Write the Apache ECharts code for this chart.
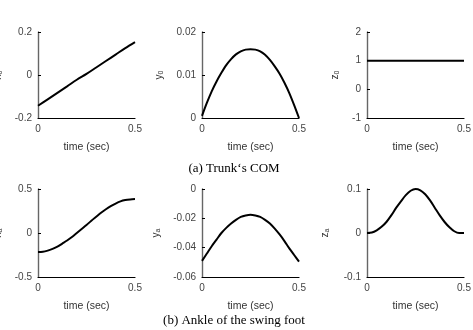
<!DOCTYPE html>
<html><head><meta charset="utf-8">
<script src="https://cdn.jsdelivr.net/npm/echarts@6/dist/echarts.min.js"></script>
<style>html,body{margin:0;padding:0;background:#fff}#c{width:473px;height:330px}</style>
</head><body><div id="c"></div>
<script>
const tFine = [0,0.025,0.05,0.075,0.1,0.125,0.15,0.175,0.2,0.225,0.25,0.275,0.3,0.325,0.35,0.375,0.4,0.425,0.45,0.475,0.5];
const tCoarse = [0,0.05,0.1,0.15,0.2,0.25,0.3,0.35,0.4,0.45,0.5];
const x0 = [-0.143,-0.113,-0.083,-0.053,-0.022,0.005,0.035,0.065,0.095,0.125,0.153];
const y0 = [0.0005,0.0035,0.0062,0.0085,0.0105,0.0123,0.0137,0.0148,0.0155,0.0159,0.0160,0.0159,0.0155,0.0147,0.0135,0.0120,0.0103,0.0082,0.0058,0.0030,0.0000];
const z0 = [1,1,1,1,1,1,1,1,1,1,1];
const xa = [-0.215,-0.213,-0.2,-0.18,-0.155,-0.12,-0.085,-0.045,0.0,0.045,0.09,0.14,0.185,0.23,0.27,0.305,0.335,0.36,0.375,0.382,0.385];
const ya = [-0.049,-0.044,-0.039,-0.0345,-0.030,-0.0265,-0.0235,-0.021,-0.019,-0.018,-0.0175,-0.018,-0.019,-0.021,-0.0235,-0.027,-0.031,-0.0355,-0.0405,-0.045,-0.0495];
const za = [0,0.001,0.006,0.014,0.025,0.04,0.057,0.072,0.086,0.096,0.1,0.097,0.088,0.074,0.057,0.04,0.025,0.013,0.004,0.0,0.0];
const xTicks = [0, 0.5];
const captions = ['(a) Trunk\u2018s COM', '(b) Ankle of the swing foot'];

const panels = [
  {t:tCoarse, v:x0, name:['x','0'], min:-0.2, max:0.2, interval:0.2, left:38, top:32, h:86, gap:34},
  {t:tFine, v:y0, name:['y','0'], min:0, max:0.02, interval:0.01, left:202, top:32, h:86, gap:37},
  {t:tCoarse, v:z0, name:['z','0'], min:-1, max:2, interval:1, left:367, top:32, h:86, gap:26},
  {t:tFine, v:xa, name:['x','a'], min:-0.5, max:0.5, interval:0.5, left:38, top:189, h:88, gap:34},
  {t:tFine, v:ya, name:['y','a'], min:-0.06, max:0, interval:0.02, left:202, top:189, h:88, gap:40},
  {t:tFine, v:za, name:['z','a'], min:-0.1, max:0.1, interval:0.1, left:367, top:189, h:88, gap:36}
];
const W = 97;
const font = 'Liberation Sans, Arial, sans-serif';
const option = {
  animation:false,
  grid:[], xAxis:[], yAxis:[], series:[],
  title: captions.map((c,i)=>({text:c, left:229, top: i===0?157:309, textAlign:'center',
    textStyle:{fontFamily:'Liberation Serif, Times New Roman, serif', fontSize:13, fontWeight:'normal', color:'#000'}}))
};
panels.forEach((p,i)=>{
  option.grid.push({left:p.left, top:p.top, width:W, height:p.h, containLabel:false, outerBoundsMode:'none'});
  option.xAxis.push({type:'value', gridIndex:i, min:0, max:0.5, interval:0.5,
    name:'time (sec)', nameLocation:'middle', nameGap:24,
    nameTextStyle:{fontFamily:font, fontSize:10.5, color:'#333'},
    axisLine:{onZero:false, lineStyle:{color:'#000', width:1.2}}, axisTick:{show:false},
    splitLine:{show:false},
    axisLabel:{fontFamily:font, fontSize:10, color:'#444', margin:6,
      formatter:v=> (xTicks.indexOf(v)>=0 ? String(v) : '')}});
  option.yAxis.push({type:'value', gridIndex:i, min:p.min, max:p.max, interval:p.interval,
    name:'{b|'+p.name[0]+'}{s|'+p.name[1]+'}', nameLocation:'middle', nameGap:p.gap, nameRotate:90,
    nameTextStyle:{rich:{b:{fontFamily:font, fontSize:10, color:'#333'}, s:{fontFamily:font, fontSize:7, color:'#333', verticalAlign:'bottom', padding:[4,0,0,0]}}},
    axisLine:{show:true, onZero:false, lineStyle:{color:'#666', width:1.4}},
    axisTick:{show:true, inside:true, length:3, lineStyle:{color:'#000'}},
    splitLine:{show:false},
    axisLabel:{fontFamily:font, fontSize:10, color:'#444', margin:6,
      formatter:v=>String(Math.round(v*1000)/1000)}});
  option.series.push({type:'line', xAxisIndex:i, yAxisIndex:i, showSymbol:false,
    data:p.t.map((t,k)=>[t,p.v[k]]), smooth:0.3,
    lineStyle:{color:'#000', width:2}});
});
const chart = echarts.init(document.getElementById('c'), null, {renderer:'canvas'});
chart.setOption(option);
</script></body></html>
